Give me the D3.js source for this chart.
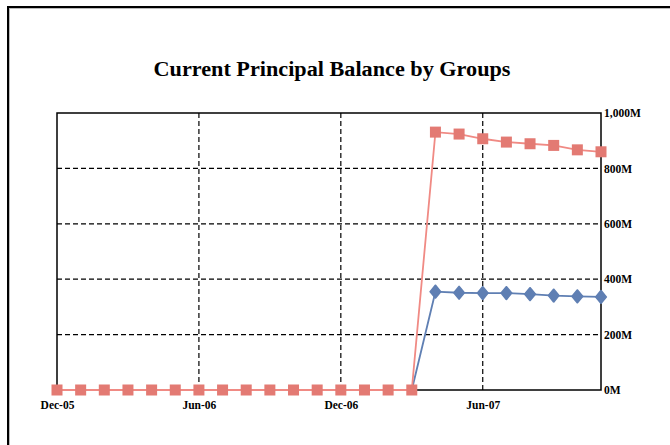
<!DOCTYPE html>
<html lang="en">
<head>
  <meta charset="UTF-8" />
  <title>Current Principal Balance by Groups</title>
  <style>
    body { margin:0; background:#fff; }
    svg { display:block; font-family:"Liberation Serif", "DejaVu Serif", serif; }
  </style>
</head>
<body>
  <svg id="chart" width="670" height="445"></svg>
  <script src="https://d3js.org/d3.v7.min.js"></script>
  <script>
  // months Dec-05 .. Nov-07
  const months = ["Dec-05","Jan-06","Feb-06","Mar-06","Apr-06","May-06","Jun-06","Jul-06",
                  "Aug-06","Sep-06","Oct-06","Nov-06","Dec-06","Jan-07","Feb-07","Mar-07",
                  "Apr-07","May-07","Jun-07","Jul-07","Aug-07","Sep-07","Oct-07","Nov-07"];
  // balances in millions
  const groupA = [0,0,0,0,0,0,0,0,0,0,0,0,0,0,0,0, 931,924,907,895,889,883,867,860];
  const groupB = [0,0,0,0,0,0,0,0,0,0,0,0,0,0,0,0, 355,351,350,350,346,341,338,336];
  const xTicks = ["Dec-05","Jun-06","Dec-06","Jun-07"];
  const yTicks = [0,200,400,600,800,1000];

  const svg = d3.select("#chart");
  const L = 57, R = 601, T = 113, B = 390;

  // outer frame (runs off right/bottom edge)
  svg.append("rect").attr("x",8).attr("y",7).attr("width",700).attr("height",500)
     .attr("fill","none").attr("stroke","#000").attr("stroke-width",2);
  svg.append("rect").attr("x",9.5).attr("y",8.5).attr("width",700).attr("height",500)
     .attr("fill","none").attr("stroke","#bbb").attr("stroke-width",1);

  svg.append("text")
     .attr("x",332).attr("y",76).attr("text-anchor","middle")
     .attr("textLength",357).attr("lengthAdjust","spacingAndGlyphs")
     .style("font-size","20px").style("font-weight","bold")
     .text("Current Principal Balance by Groups");

  const x = d3.scalePoint().domain(months).range([L,R]);
  const y = d3.scaleLinear().domain([0,1000]).range([B,T]);

  // grid
  const grid = svg.append("g").attr("stroke","#000").attr("stroke-width",1.2)
                  .attr("stroke-dasharray","5,3");
  grid.selectAll(".h").data(yTicks.filter(v=>v>0 && v<1000)).join("line")
      .attr("x1",L).attr("x2",R).attr("y1",d=>y(d)).attr("y2",d=>y(d));
  grid.selectAll(".v").data(xTicks.slice(1)).join("line")
      .attr("x1",d=>x(d)).attr("x2",d=>x(d)).attr("y1",T).attr("y2",B);

  // plot frame
  svg.append("rect").attr("x",L).attr("y",T).attr("width",R-L).attr("height",B-T)
     .attr("fill","none").attr("stroke","#000").attr("stroke-width",1.5);

  // axes
  const yAxis = svg.append("g").attr("transform",`translate(${R},0)`)
     .call(d3.axisRight(y).tickValues(yTicks).tickSize(0).tickPadding(3)
           .tickFormat(d=>d3.format(",")(d)+"M"));
  yAxis.select(".domain").remove();
  yAxis.selectAll("text").style("font-family","Liberation Serif").style("font-size","11.5px")
       .style("font-weight","bold").attr("fill","#000");

  const xAxis = svg.append("g").attr("transform",`translate(0,${B})`)
     .call(d3.axisBottom(x).tickValues(xTicks).tickSize(0).tickPadding(11));
  xAxis.select(".domain").remove();
  xAxis.selectAll("text").style("font-family","Liberation Serif").style("font-size","11.5px")
       .style("font-weight","bold").attr("fill","#000");

  const line = d3.line().x((d,i)=>x(months[i])).y(d=>y(d));

  // group B (blue)
  svg.append("path").datum(groupB).attr("d",line)
     .attr("fill","none").attr("stroke","#5f7fb3").attr("stroke-width",1.8);
  svg.append("g").selectAll("path").data(groupB.map((v,i)=>({v,i})).filter(d=>d.v>0))
     .join("path").attr("d",d3.symbol(d3.symbolDiamond,55))
     .attr("transform",d=>`translate(${x(months[d.i])},${y(d.v)}) scale(1.35,0.95)`)
     .attr("fill","#5f7fb3").attr("stroke","#5f7fb3").attr("stroke-width",1.2)
     .attr("stroke-linejoin","round");

  // group A (red)
  svg.append("path").datum(groupA).attr("d",line)
     .attr("fill","none").attr("stroke","#f08a84").attr("stroke-width",1.8);
  svg.append("g").selectAll("rect").data(groupA).join("rect")
     .attr("x",(d,i)=>x(months[i])-5.5).attr("y",d=>y(d)-5.5)
     .attr("width",11).attr("height",11).attr("fill","#e37a73");
  </script>
</body>
</html>
